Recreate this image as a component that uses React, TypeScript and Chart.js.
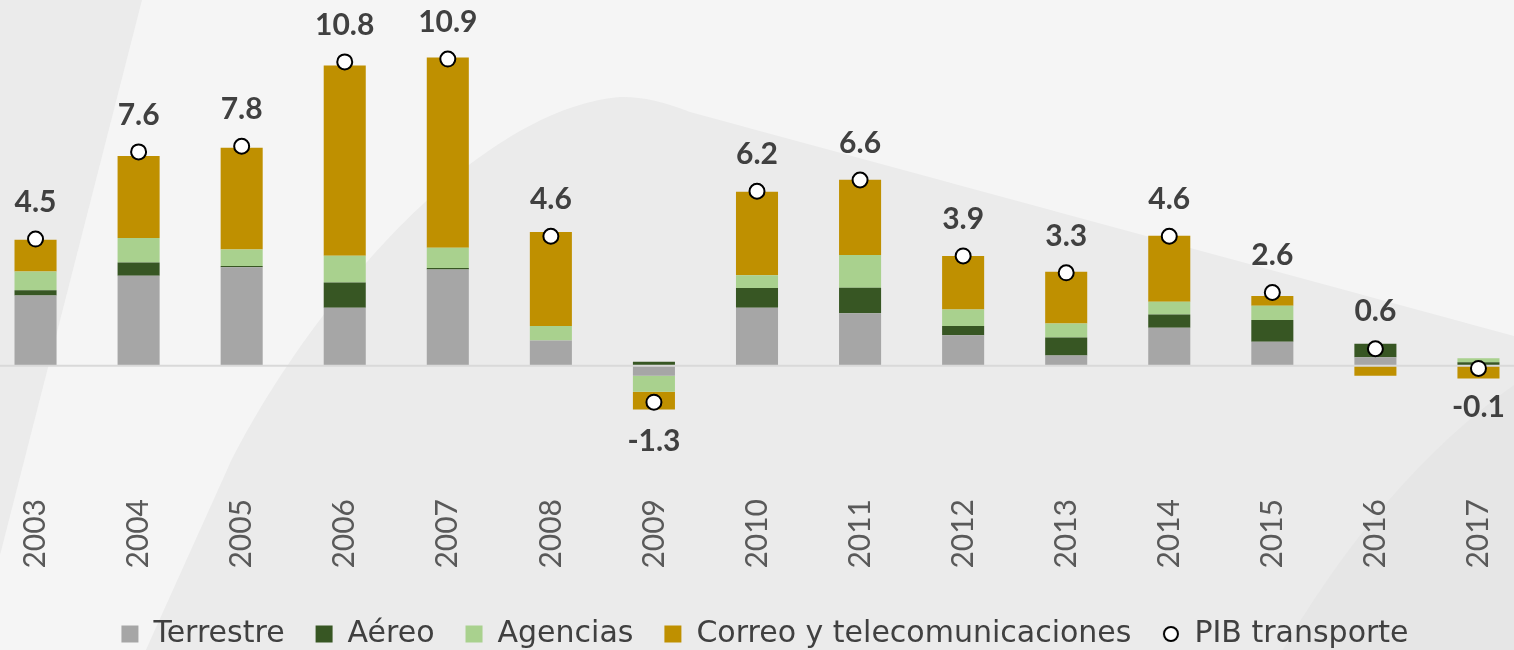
import React, { useEffect, useRef } from "react";
import { Chart, registerables } from "chart.js";

Chart.register(...registerables);

const years = ["2003", "2004", "2005", "2006", "2007", "2008", "2009", "2010", "2011", "2012", "2013", "2014", "2015", "2016", "2017"];
const terrestre = [2.49, 3.2, 3.5, 2.06, 3.42, 0.89, -0.36, 2.06, 1.86, 1.08, 0.36, 1.35, 0.85, 0.3, 0.0];
const aereo = [0.19, 0.47, 0.04, 0.9, 0.05, 0.0, 0.14, 0.7, 0.91, 0.33, 0.64, 0.47, 0.77, 0.48, 0.12];
const agencias = [0.67, 0.87, 0.59, 0.95, 0.72, 0.52, -0.57, 0.45, 1.16, 0.59, 0.5, 0.45, 0.51, 0.0, 0.14];
const correo = [1.13, 2.91, 3.62, 6.76, 6.77, 3.34, -0.63, 2.97, 2.68, 1.9, 1.84, 2.35, 0.35, -0.36, -0.46];
const pib = [4.5, 7.6, 7.8, 10.8, 10.9, 4.6, -1.3, 6.2, 6.6, 3.9, 3.3, 4.6, 2.6, 0.6, -0.1];

const seriesNames = ["Terrestre", "Aéreo", "Agencias", "Correo y telecomunicaciones", "PIB transporte"];
const seriesColors = ["#a6a6a6", "#375623", "#a9d18e", "#bf9000"];

const X_OFFSET = 16;

function makeCircle(): HTMLCanvasElement {
  const c = document.createElement("canvas");
  c.width = 18;
  c.height = 18;
  const g = c.getContext("2d")!;
  g.beginPath();
  g.arc(9, 9, 7, 0, Math.PI * 2);
  g.fillStyle = "#ffffff";
  g.fill();
  g.lineWidth = 2;
  g.strokeStyle = "#000000";
  g.stroke();
  return c;
}

const backgroundPlugin = {
  id: "bgShapes",
  beforeDraw(chart: any) {
    const ctx = chart.ctx;
    const w = chart.width;
    const h = chart.height;
    ctx.save();
    ctx.translate(X_OFFSET, 0);
    ctx.fillStyle = "#f5f5f5";
    ctx.fillRect(-X_OFFSET, 0, w, h);
    ctx.fillStyle = "#ebebeb";
    ctx.beginPath();
    ctx.moveTo(-X_OFFSET, 0);
    ctx.lineTo(142, 0);
    ctx.lineTo(0, 555);
    ctx.lineTo(-X_OFFSET, 600);
    ctx.closePath();
    ctx.fill();
    ctx.beginPath();
    ctx.moveTo(140, h);
    ctx.lineTo(227, 470);
    ctx.bezierCurveTo(300, 320, 470, 110, 620, 97);
    ctx.quadraticCurveTo(650, 96, 690, 112);
    ctx.lineTo(1514, 336);
    ctx.lineTo(w, 350);
    ctx.lineTo(w, h);
    ctx.closePath();
    ctx.fill();
    ctx.fillStyle = "#e6e6e6";
    ctx.beginPath();
    ctx.moveTo(1275, h);
    ctx.quadraticCurveTo(1380, 480, 1514, 385);
    ctx.lineTo(w, 360);
    ctx.lineTo(w, h);
    ctx.closePath();
    ctx.fill();
    ctx.restore();
  },
};

const legendShiftPlugin = {
  id: "legendShift",
  afterLayout(chart: any) {
    if (chart.legend) {
      chart.legend.left += 8;
      chart.legend.right += 8;
    }
  },
};

const zeroLinePlugin = {
  id: "zeroLine",
  beforeDatasetDraw(chart: any, args: any) {
    if (args.index !== 4) return;
    const y = chart.scales.y.getPixelForValue(0);
    const ctx = chart.ctx;
    ctx.save();
    ctx.strokeStyle = "#d9d9d9";
    ctx.lineWidth = 2;
    ctx.beginPath();
    ctx.moveTo(0, y);
    ctx.lineTo(chart.width, y);
    ctx.stroke();
    ctx.restore();
  },
};

const valueLabelPlugin = {
  id: "valueLabels",
  afterDatasetsDraw(chart: any) {
    const meta = chart.getDatasetMeta(4);
    const ctx = chart.ctx;
    ctx.save();
    ctx.font = "bold 30px Lato";
    ctx.fillStyle = "#404040";
    ctx.textAlign = "center";
    ctx.textBaseline = "middle";
    meta.data.forEach((pt: any, i: number) => {
      const v = pib[i];
      const y = v >= 0 ? pt.y - 37 : pt.y + 39;
      ctx.fillText(v.toFixed(1), pt.x, y);
    });
    ctx.restore();
  },
};

export default function App() {
  const ref = useRef<HTMLCanvasElement | null>(null);

  useEffect(() => {
    if (!ref.current) return;
    const circle = makeCircle();
    const barData = [terrestre, aereo, agencias, correo];
    const datasets: any[] = barData.map((d, i) => ({
      type: "bar",
      label: seriesNames[i],
      data: d,
      backgroundColor: seriesColors[i],
      borderWidth: 0,
      categoryPercentage: 1,
      barPercentage: 0.408,
      stack: "s",
      order: 1,
    }));
    datasets.push({
      type: "line",
      label: seriesNames[4],
      data: pib,
      showLine: false,
      pointRadius: 7.5,
      pointBackgroundColor: "#ffffff",
      pointBorderColor: "#000000",
      pointBorderWidth: 2,
      stack: "pib",
      order: 0,
    });

    const chart = new Chart(ref.current, {
      type: "bar",
      data: { labels: years, datasets },
      options: {
        animation: false,
        responsive: true,
        maintainAspectRatio: false,
        layout: { autoPadding: false, padding: { top: 0, bottom: 4, left: 0, right: 20 } },
        plugins: {
          tooltip: { enabled: false },
          legend: {
            position: "bottom",
            labels: {
              usePointStyle: true,
              boxWidth: 17,
              boxHeight: 17,
              padding: 31,
              color: "#404040",
              font: { family: "DejaVu Sans", size: 30 },
              generateLabels: (c: any) =>
                c.data.datasets.map((ds: any, i: number) => ({
                  text: ds.label,
                  fillStyle: i < 4 ? seriesColors[i] : "#ffffff",
                  strokeStyle: i < 4 ? seriesColors[i] : "#000000",
                  lineWidth: 0,
                  pointStyle: i < 4 ? "rect" : circle,
                  hidden: false,
                  datasetIndex: i,
                  fontColor: "#404040",
                })),
            },
          },
        },
        scales: {
          x: {
            stacked: true,
            grid: { display: false, drawTicks: false },
            border: { display: false },
            afterFit: (scale: any) => {
              scale.height = 100;
            },
            ticks: {
              minRotation: 90,
              maxRotation: 90,
              padding: 11,
              color: "#595959",
              font: { family: "Lato", size: 30 },
            },
          },
          y: {
            stacked: true,
            display: false,
            min: -4.35,
            max: 13.0,
          },
        },
      },
      plugins: [backgroundPlugin, legendShiftPlugin, zeroLinePlugin, valueLabelPlugin],
    } as any);
    return () => chart.destroy();
  }, []);

  return (
    <div style={{ position: "fixed", left: -X_OFFSET, top: 0, width: 1566, height: 663 }}>
      <canvas ref={ref} />
    </div>
  );
}
